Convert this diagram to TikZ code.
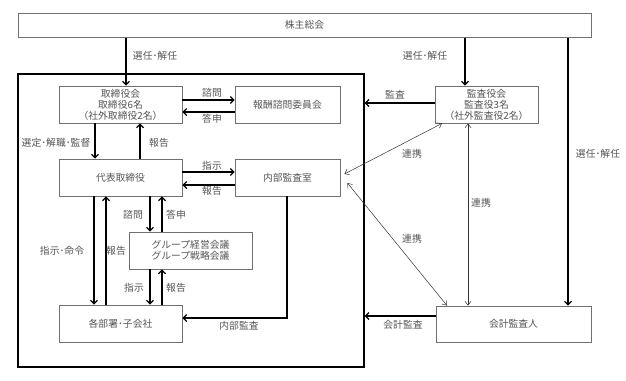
\documentclass[tikz,border=0pt]{standalone}
\usepackage{fontspec}
\setmainfont{Noto Sans CJK JP}
\usetikzlibrary{arrows.meta,calc}
\definecolor{txt}{HTML}{555555}
\definecolor{bord}{HTML}{707070}
\begin{document}
\begin{tikzpicture}[x=1pt,y=-1pt,
  box/.style={draw=bord, line width=0.8pt, inner sep=0pt, align=center, text=txt,
    font=\fontsize{9.8}{11}\selectfont},
  lab/.style={inner sep=1pt, text=txt, font=\fontsize{9.8}{11}\selectfont},
  strong/.style={line width=1.2pt, -{Straight Barb[length=3.5pt,width=7pt]}},
  link/.style={line width=0.5pt, draw=black!80,
    {Straight Barb[length=4pt,width=6pt]}-{Straight Barb[length=4pt,width=6pt]}}]
\useasboundingbox (0,0) rectangle (626,380);

\node[box, line width=1pt, minimum width=573pt, minimum height=24pt] (kabu) at (304.5,25) {株主総会};
\node[draw, line width=1.3pt, minimum width=346pt, minimum height=293pt, inner sep=0pt] (outer) at (191,220.5) {};

\node[box, minimum width=123pt, minimum height=37pt] (tori) at (120.5,104.5) {取締役会\\取締役6名\\（社外取締役2名）};
\node[box, minimum width=105pt, minimum height=37pt] (hoshu) at (287.5,104.5) {報酬諮問委員会};
\node[box, minimum width=103pt, minimum height=37pt] (kansa) at (486.5,104.5) {監査役会\\監査役3名\\（社外監査役2名）};
\node[box, minimum width=123pt, minimum height=37pt] (daihyo) at (120.5,177.5) {代表取締役};
\node[box, minimum width=105pt, minimum height=37pt] (naibu) at (287.5,177.5) {内部監査室};
\node[box, minimum width=123pt, minimum height=37pt] (group) at (190.5,250.5) {グループ経営会議\\グループ戦略会議};
\node[box, minimum width=123pt, minimum height=37pt] (kakubu) at (120.5,323.5) {各部署･子会社};
\node[box, minimum width=155pt, minimum height=36pt] (kaikei) at (513.5,324) {会計監査人};

% arrows
\draw[strong] (kabu.south -| 126,0) -- (tori.north -| 126,0);
\draw[strong] (kabu.south -| 465,0) -- (kansa.north -| 465,0);
\draw[strong] (kabu.south -| 568,0) -- (kaikei.north -| 568,0);
\draw[strong] (tori.east |- 0,100) -- (hoshu.west |- 0,100);
\draw[strong] (hoshu.west |- 0,112) -- (tori.east |- 0,112);
\draw[strong] (tori.south -| 95,0) -- (daihyo.north -| 95,0);
\draw[strong] (daihyo.north -| 140,0) -- (tori.south -| 140,0);
\draw[strong] (daihyo.east |- 0,172) -- (naibu.west |- 0,172);
\draw[strong] (naibu.west |- 0,185) -- (daihyo.east |- 0,185);
\draw[strong] (daihyo.south -| 94,0) -- (kakubu.north -| 94,0);
\draw[strong] (kakubu.north -| 106,0) -- (daihyo.south -| 106,0);
\draw[strong] (daihyo.south -| 150,0) -- (group.north -| 150,0);
\draw[strong] (group.north -| 162,0) -- (daihyo.south -| 162,0);
\draw[strong] (group.south -| 150,0) -- (kakubu.north -| 150,0);
\draw[strong] (kakubu.north -| 162,0) -- (group.south -| 162,0);
\draw[strong] (naibu.south -| 287,0) |- (kakubu.east |- 0,318);
\draw[strong] (kansa.west |- 0,103) -- (outer.east |- 0,103);
\draw[strong] (kaikei.west |- 0,316) -- (outer.east |- 0,316);

\draw[link] (kansa.south -| 442,0) -- ($(naibu.east)+(4,-3.5)$);
\draw[link] ($(naibu.east)+(7,5.5)$) -- (kaikei.north -| 447,0);
\draw[link] (kansa.south -| 468,0) -- (kaikei.north -| 468,0);

% labels
\node[lab] (l1) at (155,56) {選任･解任};
\node[lab] (l2) at (425,56) {選任･解任};
\node[lab] (l3) at (598,154) {選任･解任};
\node[lab] (l4) at (212,93) {諮問};
\node[lab] (l5) at (212,119) {答申};
\node[lab] (l6) at (395,95) {監査};
\node[lab] (l7) at (56,143) {選定･解職･監督};
\node[lab] (l8) at (159,143) {報告};
\node[lab] (l9) at (212,166) {指示};
\node[lab] (l10) at (212,191) {報告};
\node[lab] (l11) at (412,154) {連携};
\node[lab] (l12) at (481,203) {連携};
\node[lab] (l13) at (412,239) {連携};
\node[lab] (l14) at (133,215) {諮問};
\node[lab] (l15) at (176,215) {答申};
\node[lab] (l16) at (62,251) {指示･命令};
\node[lab] (l17) at (116,251) {報告};
\node[lab] (l18) at (134,288) {指示};
\node[lab] (l19) at (176,288) {報告};
\node[lab] (l20) at (239,326) {内部監査};
\node[lab] (l21) at (403,325) {会計監査};
\end{tikzpicture}
\end{document}
